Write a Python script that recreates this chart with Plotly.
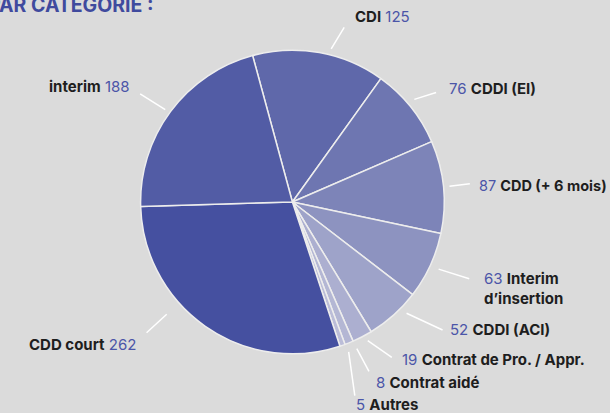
import math
import plotly.graph_objects as go

# ---- data ----
categories = ["CDI", "CDDI (EI)", "CDD (+ 6 mois)", "Interim<br>d’insertion", "CDDI (ACI)",
              "Contrat de Pro. / Appr.", "Contrat aidé", "Autres", "CDD court", "interim"]
values = [125, 76, 87, 63, 52, 19, 8, 5, 262, 188]
title_text = "PAR CATÉGORIE :"

# ---- style ----
colors = ["#5F68AA", "#6E76B1", "#7D84B8", "#8D93C0", "#9EA3C9",
          "#ACAFD0", "#B4B7D4", "#BBBDD8", "#4550A0", "#525CA5"]
W, H = 610, 413
CX, CY, R = 292.4, 202.0, 151.8
ROT = -15.2
BG = "#DBDBDB"
NUM_COLOR = "#4B55A8"
TXT_COLOR = "#1E1E1E"
FONT = "Inter"
LABEL_SIZE = 15

# leader line: (inner angle offset, inner r factor, outer angle offset, outer r factor,
#               label dx, label dy from outer end in px, mode, font size)
leader = [
    (4.0, 1.04, 6.3, 1.20, 9, -11, "name_first_left", 15),
    (-1.2, 1.05, 1.6, 1.19, 11, -4, "num_first", 15),
    (0.0, 1.04, -0.1, 1.175, 7, 2, "num_first", 14.5),
    (-0.1, 1.06, -1.3, 1.27, 13, 10, "num_first", 15),
    (-3.9, 1.05, -7.7, 1.30, 5, -1, "num_first", 15),
    (-1.1, 1.04, -5.2, 1.215, 8, 2, "num_first", 15),
    (-1.8, 1.055, -2.4, 1.225, 5, 11, "num_first", 15),
    (-1.3, 1.055, 1.4, 1.34, -1, 9, "num_first", 15),
    (13.2, 1.11, 13.1, 1.29, -9, 12, "name_first_right", 15),
    (-0.6, 1.035, -1.2, 1.23, -8, -7, "name_first_right", 15),
]

def px_to_paper(x, y):
    return x / W, 1 - y / H

def polar(angle_deg, r):
    a = math.radians(angle_deg)
    return CX + r * math.sin(a), CY - r * math.cos(a)

fig = go.Figure()
fig.add_trace(go.Pie(
    labels=[c.replace("<br>", " ") for c in categories],
    values=values,
    sort=False,
    direction="clockwise",
    rotation=ROT,
    marker=dict(colors=colors, line=dict(color="#EDEDED", width=1.5)),
    textinfo="none",
    hoverinfo="label+value",
    showlegend=False,
    domain=dict(x=[(CX - R) / W, (CX + R) / W], y=[1 - (CY + R) / H, 1 - (CY - R) / H]),
))

total = sum(values)
cum = ROT
shapes = []
annotations = []
for cat, v, spec in zip(categories, values, leader):
    span = v / total * 360
    mid = cum + span / 2
    cum += span
    a1, r1, a2, r2, dx, dy, mode, fs = spec
    x1, y1 = polar(mid + a1, R * r1)
    x2, y2 = polar(mid + a2, R * r2)
    p1 = px_to_paper(x1, y1)
    p2 = px_to_paper(x2, y2)
    shapes.append(dict(type="line", xref="paper", yref="paper",
                       x0=p1[0], y0=p1[1], x1=p2[0], y1=p2[1],
                       line=dict(color="white", width=1.5)))
    num = f"<span style='color:{NUM_COLOR}'>{v}</span>"
    name = f"<b>{cat.replace('<br>', '</b><br><b>')}</b>"
    if mode == "num_first":
        text = f"{num} {name}"
        xanchor = "left"
    elif mode == "name_first_left":
        text = f"{name} {num}"
        xanchor = "left"
    else:
        text = f"{name} {num}"
        xanchor = "right"
    lx, ly = px_to_paper(x2 + dx, y2 + dy)
    annotations.append(dict(x=lx, y=ly, xref="paper", yref="paper", text=text,
                            showarrow=False, xanchor=xanchor, yanchor="middle",
                            align="left", font=dict(family=FONT, size=fs, color=TXT_COLOR)))

tx, ty = px_to_paper(156, 4.5)
annotations.append(dict(x=tx, y=ty, xref="paper", yref="paper", text=f"<b>{title_text}</b>",
                        showarrow=False, xanchor="right", yanchor="middle",
                        font=dict(family=FONT, size=19.5, color="#3F4A9E")))

fig.update_layout(
    width=W, height=H,
    margin=dict(l=0, r=0, t=0, b=0),
    paper_bgcolor=BG, plot_bgcolor=BG,
    shapes=shapes, annotations=annotations,
)
fig.write_html("out.html", config={"displayModeBar": False},
               post_script="document.body.style.margin='0';document.body.style.overflow='hidden';")
